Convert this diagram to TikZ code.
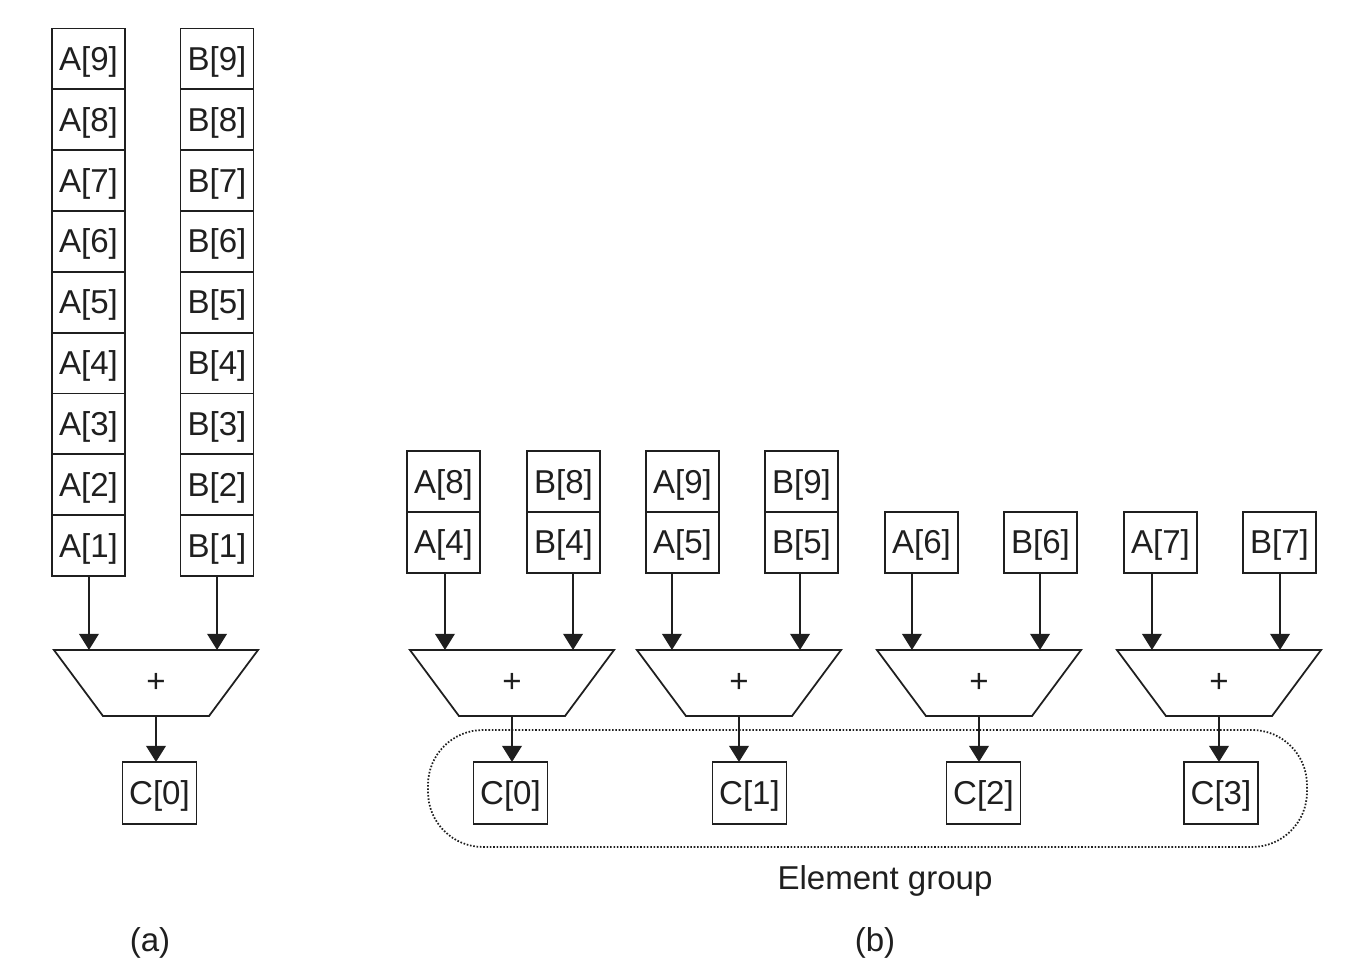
\documentclass[tikz,border=0pt]{standalone}
\usepackage{fontspec}
\setmainfont{Liberation Sans}
\usetikzlibrary{positioning,arrows.meta}

\begin{document}
\begin{tikzpicture}[
  x=0.01cm, y=-0.01cm, color=black!88,
  every node/.style={font=\fontsize{9.4}{11}\selectfont},
  every path/.style={line width=0.5pt},
  cell/.style={draw,rectangle,minimum width=0.73cm,minimum height=0.608cm,inner sep=0pt,
    outer sep=0pt,text depth=0.3pt},
  result/.style={cell,minimum width=0.74cm,minimum height=0.62cm},
  adder/.style={rectangle,minimum width=2.04cm,minimum height=0.66cm,inner sep=0pt,outer sep=0pt},
  feed/.style={-{Triangle[width=5.6pt,length=4.6pt]}},
  group line/.style={dash pattern=on 0.45pt off 0.5pt,rounded corners=0.55cm},
  ]
  \useasboundingbox (0,0) rectangle (1359,980);
  \newcommand\addershape[1]{%
    \draw (#1.north west) -- (#1.north east) -- ([xshift=-0.49cm]#1.south east)
      -- ([xshift=0.49cm]#1.south west) -- cycle;}

  % (a) whole vectors into one adder
  \node[cell] (a1) at (88.5,545.6) {A[1]};
  \node[cell] (b1) at (217,545.6) {B[1]};
  \foreach \i [remember=\i as \j (initially 1)] in {2,...,9} {
    \node[cell,above=0pt of a\j] (a\i) {A[\i]};
    \node[cell,above=0pt of b\j] (b\i) {B[\i]};
  }
  \node[adder] (add) at (156,683) {+};
  \addershape{add}
  \node[result] (c) at (159.5,793) {C[0]};
  \coordinate (add in1) at ([xshift=-0.67cm]add.north);
  \coordinate (add in2) at ([xshift=0.61cm]add.north);
  \draw[feed] (a1.south -| add in1) -- (add in1);
  \draw[feed] (b1.south -| add in2) -- (add in2);
  \draw[feed] (add.south) -- (add.south |- c.north);

  % (b) four lanes
  \foreach \n/\xa/\xb/\xs/\xc [count=\k from 0] in
    {4/443.5/563.5/512/510.5, 5/682.5/801.5/739/749.5,
     6/921.5/1040.5/979/983.5, 7/1160.5/1279.5/1219/1221} {
    \node[cell] (va\n) at (\xa,542.5) {A[\n]};
    \node[cell] (vb\n) at (\xb,542.5) {B[\n]};
    \node[adder] (add\k) at (\xs,683) {+};
    \addershape{add\k}
    \node[result] (c\k) at (\xc,793) {C[\k]};
    \coordinate (add\k in1) at ([xshift=-0.67cm]add\k.north);
    \coordinate (add\k in2) at ([xshift=0.61cm]add\k.north);
    \draw[feed] (va\n.south -| add\k in1) -- (add\k in1);
    \draw[feed] (vb\n.south -| add\k in2) -- (add\k in2);
    \draw[feed] (add\k.south) -- (add\k.south |- c\k.north);
  }
  \node[cell,above=0pt of va4] (va8) {A[8]};
  \node[cell,above=0pt of vb4] (vb8) {B[8]};
  \node[cell,above=0pt of va5] (va9) {A[9]};
  \node[cell,above=0pt of vb5] (vb9) {B[9]};

  \draw[group line] (428,730) rectangle (1307,847);
  \node (grp) at (885,881) {Element group};

  \node (lbla) at (150,943) {(a)};
  \node (lblb) at (875,943) {(b)};
\end{tikzpicture}
\end{document}
